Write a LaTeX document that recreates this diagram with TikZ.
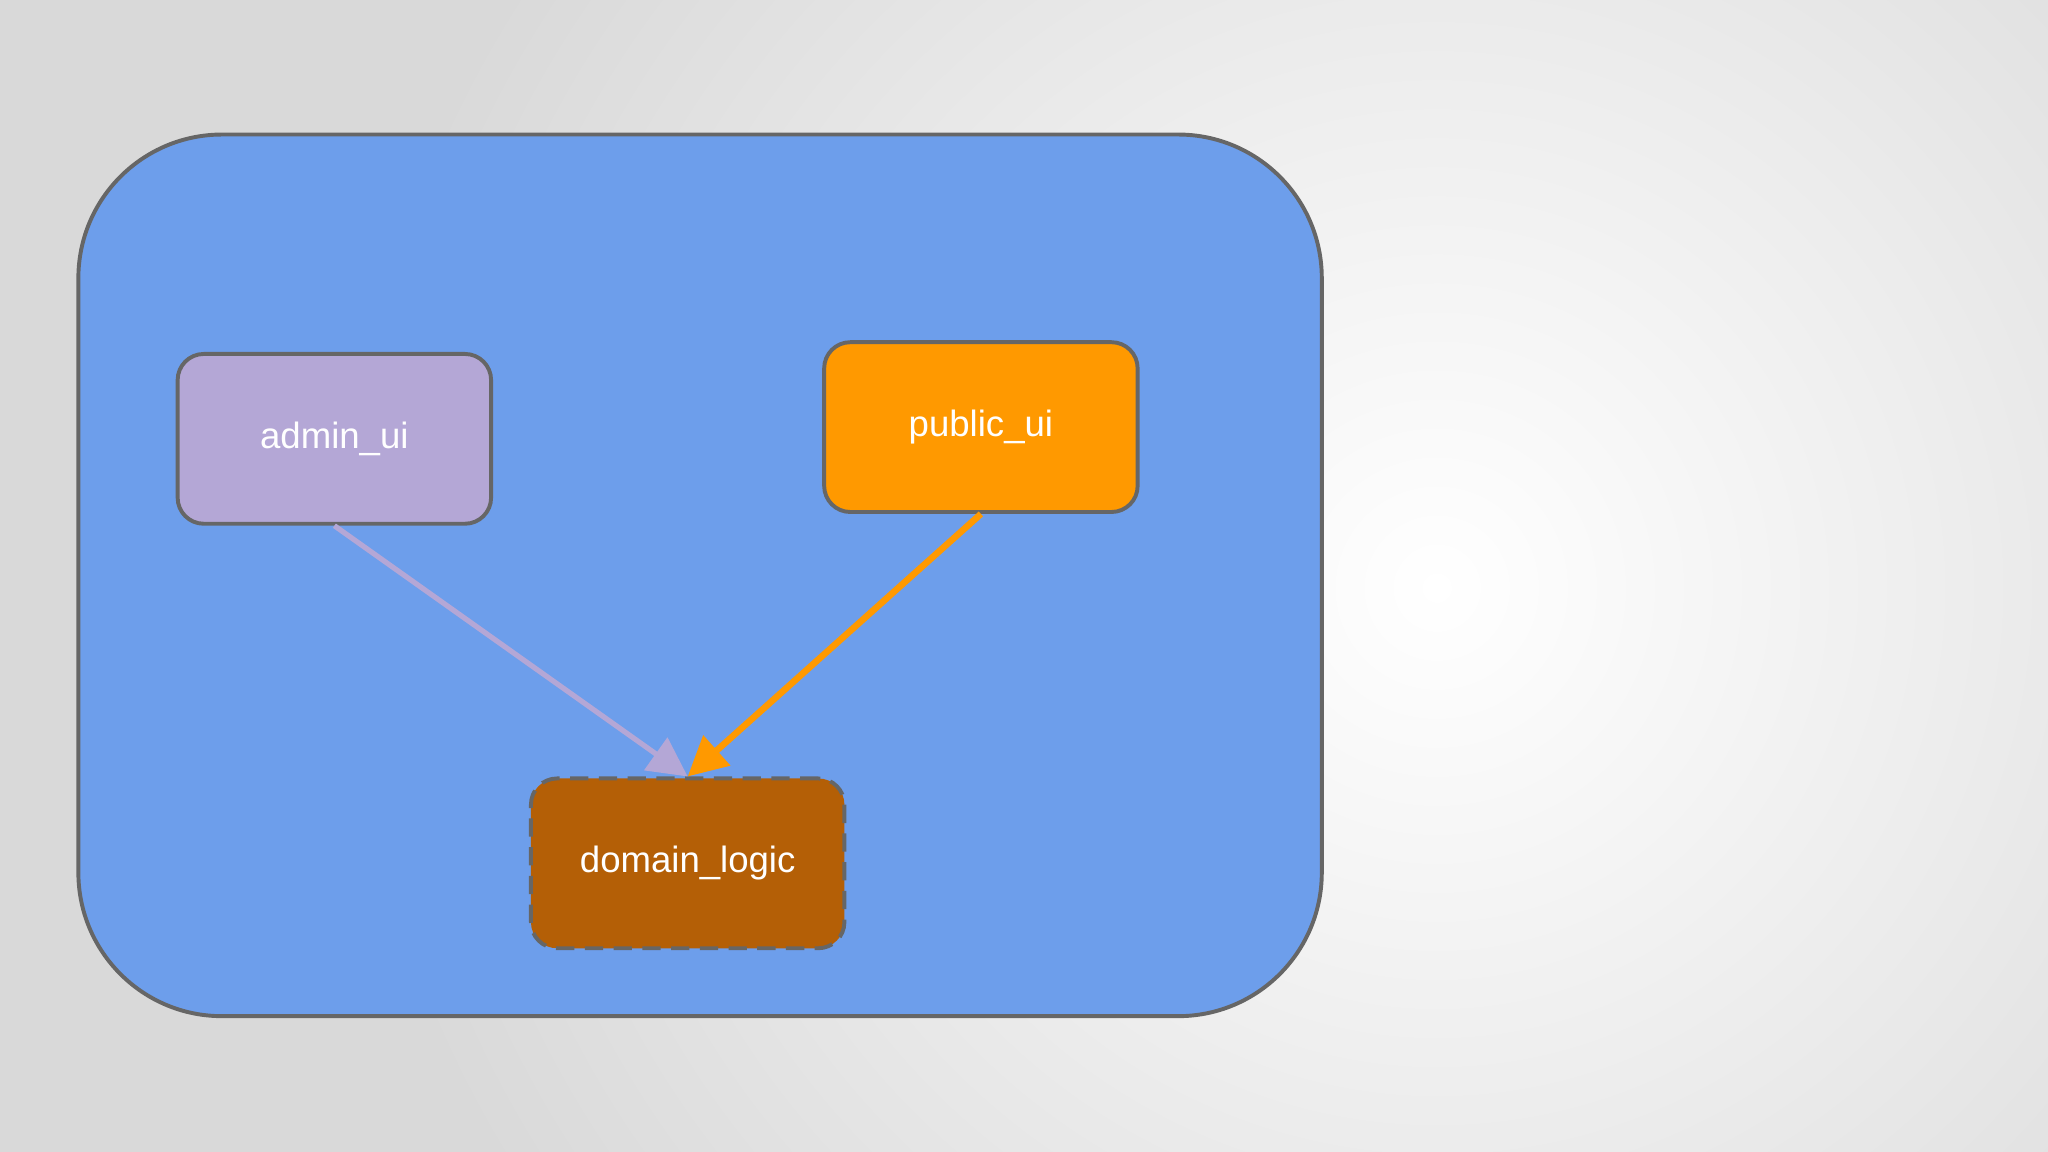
\documentclass[tikz,border=0pt]{standalone}
\usepackage{fontspec}
\setmainfont{Liberation Sans}
\usetikzlibrary{arrows.meta}
\definecolor{cont}{HTML}{6D9EEB}
\definecolor{bord}{HTML}{666666}
\definecolor{lav}{HTML}{B4A7D6}
\definecolor{org}{HTML}{FF9900}
\definecolor{brn}{HTML}{B45F06}
\tikzset{
  box/.style={draw=bord, line width=3pt, rounded corners=20pt, minimum width=240pt, minimum height=130pt, text=white, font=\fontsize{28}{32}\selectfont, inner sep=0pt},
  conn/.style={line width=5pt, -{Triangle[length=30pt,width=30pt]}}
}
\begin{document}
\begin{tikzpicture}[x=1pt,y=-1pt]
\useasboundingbox (0,0) rectangle (1568,882);
\begin{scope}
\clip (0,0) rectangle (1568,882);
\fill[gray!30] (0,0) rectangle (1568,882);
\shade[inner color=white, outer color=gray!30] (1100,450) circle (850);
\end{scope}
\node[draw=bord, fill=cont, line width=3pt, rounded corners=110pt, minimum width=952pt, minimum height=675pt, inner sep=0pt] (cont) at (536,440.5) {};
\node[box, fill=lav] (admin) at (256,336) {admin\_ui};
\node[box, fill=org] (public) at (751,327) {public\_ui};
\node[box, fill=brn, dashed, dash pattern=on 14pt off 8pt] (domain) at (526.5,661) {domain\_logic};
\draw[conn, draw=lav, fill=lav, line width=4pt] (admin.south) -- (domain.north);
\draw[conn, draw=org, fill=org] (public.south) -- (domain.north);
\end{tikzpicture}
\end{document}
